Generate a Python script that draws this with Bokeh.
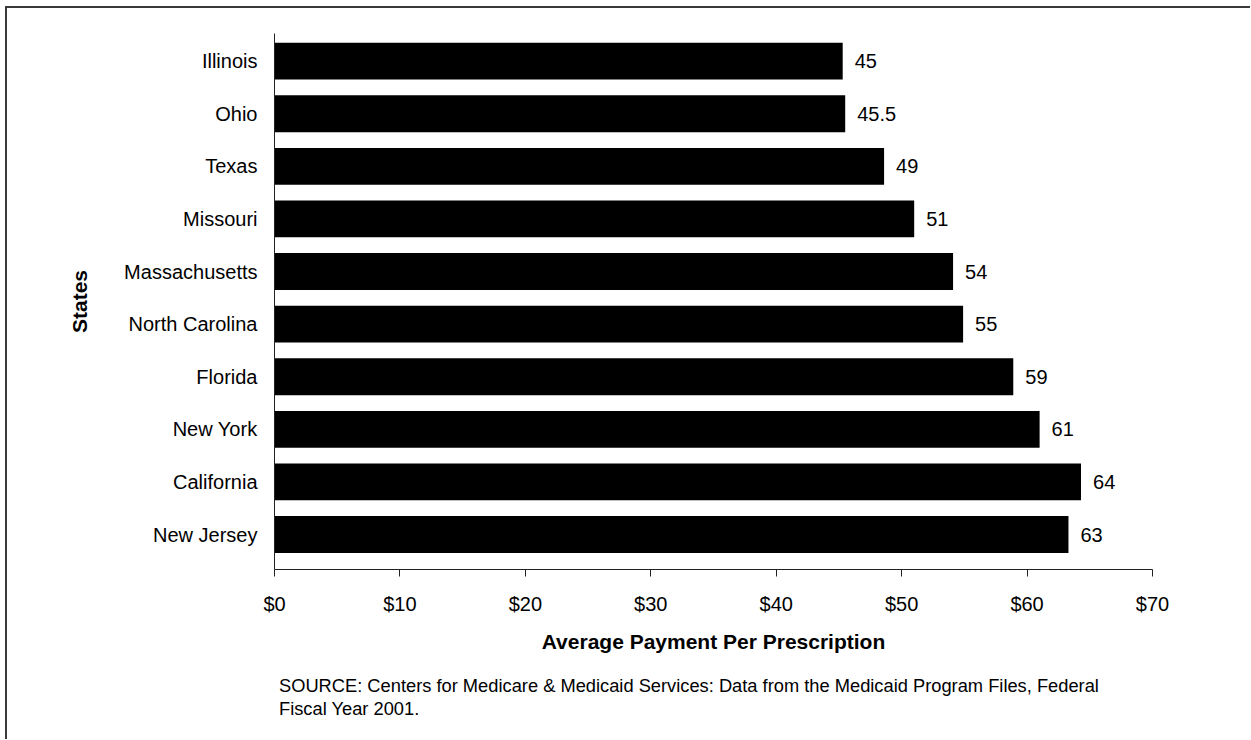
from bokeh.plotting import figure
from bokeh.models import Range1d, FixedTicker, Title, ColumnDataSource
from bokeh.core.properties import value
from bokeh.embed import file_html
from bokeh.resources import INLINE

# ---- data ----
states = ["Illinois", "Ohio", "Texas", "Missouri", "Massachusetts",
          "North Carolina", "Florida", "New York", "California", "New Jersey"]
payments = [45.3, 45.5, 48.6, 51.0, 54.1, 54.9, 58.9, 61.0, 64.3, 63.3]
value_labels = ["45", "45.5", "49", "51", "54", "55", "59", "61", "64", "63"]
x_ticks = [0, 10, 20, 30, 40, 50, 60, 70]
x_tick_labels = ["$0", "$10", "$20", "$30", "$40", "$50", "$60", "$70"]
x_title = "Average Payment Per Prescription"
y_title = "States"
source_lines = [
    "SOURCE: Centers for Medicare & Medicaid Services: Data from the Medicaid Program Files, Federal",
    "Fiscal Year 2001.",
]

FONT = "Liberation Sans"
pos = list(range(len(states)))
src = ColumnDataSource(dict(pos=pos, pay=payments, lab=value_labels))

p = figure(width=1243, height=731, output_backend="svg", toolbar_location=None,
           x_range=Range1d(0, 70), y_range=Range1d(9.665, -0.525),
           min_border_left=267, min_border_right=98, min_border_top=25,
           min_border_bottom=170, frame_width=878, frame_height=536)
p.styles = {"margin-left": "5px", "margin-top": "6px",
            "border-left": "2px solid #3a3a3a", "border-top": "2px solid #3a3a3a"}
p.outline_line_color = None
p.xgrid.visible = False
p.ygrid.visible = False

p.hbar(y="pos", left=0, right="pay", height=0.70, source=src,
       fill_color="black", line_color=None)
p.text(x="pay", y="pos", text="lab", source=src, x_offset=12,
       text_baseline="middle", text_align="left",
       text_font=value(FONT), text_font_size=value("20px"), text_color="black")

# x axis
xa = p.xaxis[0]
xa.ticker = FixedTicker(ticks=x_ticks)
xa.major_label_overrides = {t: l for t, l in zip(x_ticks, x_tick_labels)}
xa.major_tick_out = 7
xa.major_tick_in = 0
xa.minor_tick_out = 0
xa.minor_tick_in = 0
xa.axis_line_color = "#222222"
xa.major_tick_line_color = "#222222"
xa.major_label_text_font = FONT
xa.major_label_text_font_size = "20px"
xa.major_label_text_color = "black"
xa.major_label_standoff = 16
xa.axis_label = x_title
xa.axis_label_text_font = FONT
xa.axis_label_text_font_size = "21px"
xa.axis_label_text_font_style = "bold"
xa.axis_label_text_color = "black"
xa.axis_label_standoff = 12

# y axis
ya = p.yaxis[0]
ya.ticker = FixedTicker(ticks=pos)
ya.major_label_overrides = {i: s for i, s in zip(pos, states)}
ya.major_tick_out = 0
ya.major_tick_in = 0
ya.minor_tick_out = 0
ya.minor_tick_in = 0
ya.axis_line_color = "#222222"
ya.major_label_text_font = FONT
ya.major_label_text_font_size = "20px"
ya.major_label_text_color = "black"
ya.major_label_standoff = 17
ya.axis_label = y_title
ya.axis_label_text_font = FONT
ya.axis_label_text_font_size = "21px"
ya.axis_label_text_font_style = "bold"
ya.axis_label_text_color = "black"
ya.axis_label_standoff = 30

p.add_layout(Title(text="\n".join(source_lines), align="left", offset=4.5,
                   standoff=36, text_font=FONT, text_font_size="18.3px",
                   text_line_height=1.1,
                   text_font_style="normal", text_color="black"), "below")

open("out.html", "w").write(file_html(p, INLINE))
